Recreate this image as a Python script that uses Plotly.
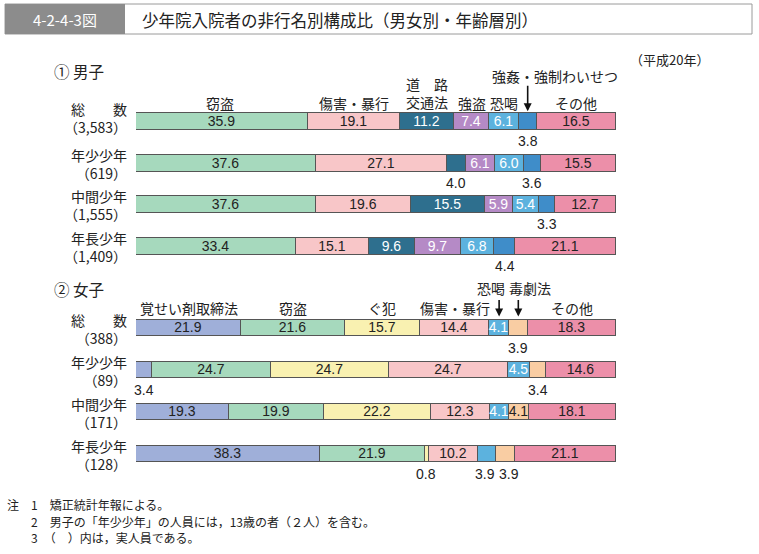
import plotly.graph_objects as go

W, H = 759, 554

# ---------------- data ----------------
male_rows = ["総数", "年少少年", "中間少年", "年長少年"]
male_row_labels = ["総　　数<br>（3,583）", "年少少年<br>（619）", "中間少年<br>（1,555）", "年長少年<br>（1,409）"]
male_cats = ["窃盗", "傷害・暴行", "道路交通法", "強盗", "恐喝", "強姦・強制わいせつ", "その他"]
male_theft = [35.9, 37.6, 37.6, 33.4]
male_assault = [19.1, 27.1, 19.6, 15.1]
male_traffic = [11.2, 4.0, 15.5, 9.6]
male_robbery = [7.4, 6.1, 5.9, 9.7]
male_extortion = [6.1, 6.0, 5.4, 6.8]
male_sexual = [3.8, 3.6, 3.3, 4.4]
male_other = [16.5, 15.5, 12.7, 21.1]

female_rows = ["総数", "年少少年", "中間少年", "年長少年"]
female_row_labels = ["総　　数<br>（388）", "年少少年<br>（89）", "中間少年<br>（171）", "年長少年<br>（128）"]
female_cats = ["覚せい剤取締法", "窃盗", "ぐ犯", "傷害・暴行", "恐喝", "毒劇法", "その他"]
female_stim = [21.9, 3.4, 19.3, 38.3]
female_theft = [21.6, 24.7, 19.9, 21.9]
female_guhan = [15.7, 24.7, 22.2, 0.8]
female_assault = [14.4, 24.7, 12.3, 10.2]
female_extortion = [4.1, 4.5, 4.1, 3.9]
female_poison = [3.9, 3.4, 4.1, 3.9]
female_other = [18.3, 14.6, 18.1, 21.1]

male_series = [male_theft, male_assault, male_traffic, male_robbery,
               male_extortion, male_sexual, male_other]
female_series = [female_stim, female_theft, female_guhan, female_assault,
                 female_extortion, female_poison, female_other]

# ---------------- style ----------------
male_colors = ["#a6d9bd", "#f8c6c8", "#2e6f8e", "#b58ac6", "#5cb2de", "#3f8dc9", "#ec8fa9"]
male_txtcol = ["#222", "#222", "white", "white", "white", "#222", "#222"]
female_colors = ["#9fafd9", "#a6d9bd", "#f9f1b1", "#f8c6c8", "#5cb2de", "#f9cda3", "#ec8fa9"]
female_txtcol = ["#222", "#222", "#222", "#222", "white", "#222", "#222"]
# (series index, row index) -> horizontal nudge (px) of values written under the bar
male_outside = {(5, 0): 0, (5, 1): 0, (5, 2): 0, (5, 3): 0, (2, 1): 0}
female_outside = {(5, 0): 0, (5, 1): 0, (0, 1): 0, (2, 3): -1, (4, 3): -2, (5, 3): 3}
male_label_shift = [4, 0, 0, 0]
female_label_shift = [0, 0, 0, 0]

FONT = "Liberation Sans, Arial, Noto Sans CJK JP, sans-serif"
JFONT = "Noto Sans CJK JP, sans-serif"

def px(x):
    return x / W

def py(y):
    return 1 - y / H

fig = go.Figure()
annotations = []

def add_group(series, cats, colors, txtcols, outside, rows, xa, ya):
    cum = [0.0] * len(rows)
    for i, vals in enumerate(series):
        texts = []
        for j, v in enumerate(vals):
            if (i, j) in outside:
                texts.append("")
                annotations.append(dict(
                    x=cum[j] + v / 2, y=rows[j], xref=xa, yref=ya,
                    text=f"{v:.1f}", showarrow=False, yshift=-20, xshift=outside[(i, j)],
                    font=dict(size=14, color="#222", family=FONT)))
            else:
                texts.append(f"{v:.1f}")
        fig.add_trace(go.Bar(
            x=vals, y=rows, orientation="h", name=cats[i],
            xaxis=xa, yaxis=ya, width=0.4,
            marker=dict(color=colors[i], line=dict(color="#555", width=1)),
            text=texts, textposition="inside", insidetextanchor="middle",
            textangle=0, textfont=dict(size=14, color=txtcols[i], family=FONT),
            hoverinfo="skip", showlegend=False))
        cum = [c + v for c, v in zip(cum, vals)]

add_group(male_series, male_cats, male_colors, male_txtcol, male_outside, male_rows, "x", "y")
add_group(female_series, female_cats, female_colors, female_txtcol, female_outside, female_rows, "x2", "y2")

# centers of top-row segments for the header labels
def centers(series):
    out, c = [], 0.0
    for s in series:
        out.append(c + s[0] / 2)
        c += s[0]
    return out

mc = centers(male_series)
fc = centers(female_series)

def lab(text, x, xa, ya, row, ys, xs=0, size=14, yanchor="middle"):
    annotations.append(dict(x=x, y=row, xref=xa, yref=ya, text=text, showarrow=False,
                            yshift=ys, xshift=xs, yanchor=yanchor,
                            font=dict(size=size, color="#222", family=JFONT)))

def arrow(x, xa, ya, row, ys, ay):
    annotations.append(dict(x=x, y=row, xref=xa, yref=ya, text="", showarrow=True,
                            arrowhead=2, arrowsize=1, arrowwidth=1.6, arrowcolor="#111",
                            ax=0, ay=ay, yshift=ys))

# male headers
lab("窃盗", mc[0], "x", "y", male_rows[0], 18, xs=-2)
lab("傷害・暴行", mc[1], "x", "y", male_rows[0], 18)
lab("道　路<br>交通法", mc[2], "x", "y", male_rows[0], 7, yanchor="bottom")
lab("強盗", mc[3], "x", "y", male_rows[0], 18)
lab("恐喝", mc[4], "x", "y", male_rows[0], 18)
lab("強姦・強制わいせつ", mc[5], "x", "y", male_rows[0], 45, xs=27)
arrow(mc[5], "x", "y", male_rows[0], 10, -27)
lab("その他", mc[6], "x", "y", male_rows[0], 18)

# female headers
lab("覚せい剤取締法", fc[0], "x2", "y2", female_rows[0], 20)
lab("窃盗", fc[1], "x2", "y2", female_rows[0], 20)
lab("ぐ犯", fc[2], "x2", "y2", female_rows[0], 20)
lab("傷害・暴行", fc[3], "x2", "y2", female_rows[0], 20)
lab("恐喝", fc[4], "x2", "y2", female_rows[0], 40, xs=-8)
arrow(fc[4], "x2", "y2", female_rows[0], 11, -18)
lab("毒劇法", fc[5], "x2", "y2", female_rows[0], 40, xs=12)
arrow(fc[5], "x2", "y2", female_rows[0], 11, -18)
lab("その他", fc[6], "x2", "y2", female_rows[0], 20)

# row labels
for rows, labels, ya, shifts in [(male_rows, male_row_labels, "y", male_label_shift),
                                 (female_rows, female_row_labels, "y2", female_label_shift)]:
    for r, t, s in zip(rows, labels, shifts):
        annotations.append(dict(x=px(129), y=r, xref="paper", yref=ya, text=t, showarrow=False,
                                xanchor="right", align="right", yshift=-1 + s,
                                font=dict(size=14, color="#222", family=JFONT)))

# titles / notes
def ptext(text, x, y, size, color="#222", xanchor="left"):
    annotations.append(dict(x=px(x), y=py(y), xref="paper", yref="paper", text=text,
                            showarrow=False, xanchor=xanchor, yanchor="middle",
                            font=dict(size=size, color=color, family=JFONT)))

ptext("4-2-4-3図", 65, 20, 15, color="white", xanchor="center")
ptext("少年院入院者の非行名別構成比（男女別・年齢層別）", 140, 20, 16.5)
ptext("① 男子", 52, 71, 15.5)
ptext("② 女子", 52, 289, 15.5)
ptext("（平成20年）", 628, 60, 13)
ptext("注　1　矯正統計年報による。", 5, 504, 12)
ptext("　　2　男子の「年少少年」の人員には，13歳の者（２人）を含む。", 5, 521, 12)
ptext("　　3　（　）内は，実人員である。", 5, 537, 12)

shapes = [
    dict(type="rect", xref="paper", yref="paper", x0=px(5), x1=px(752), y0=py(34), y1=py(4),
         fillcolor="white", line=dict(color="#9a9a9a", width=1), layer="below"),
    dict(type="rect", xref="paper", yref="paper", x0=px(5), x1=px(125), y0=py(34), y1=py(4),
         fillcolor="#8c8c8c", line=dict(width=0), layer="below"),
]

xdom = [px(136), px(616)]
axis_x = dict(range=[0, 100], visible=False, fixedrange=True)
fig.update_layout(
    width=W, height=H, margin=dict(l=0, r=0, t=0, b=0),
    paper_bgcolor="white", plot_bgcolor="rgba(0,0,0,0)",
    barmode="stack", bargap=0,
    uniformtext=dict(minsize=13, mode="show"),
    xaxis=dict(domain=xdom, anchor="y", **axis_x),
    xaxis2=dict(domain=xdom, anchor="y2", **axis_x),
    yaxis=dict(domain=[py(266.5), py(100.5)], anchor="x", type="category",
               categoryorder="array", categoryarray=male_rows, range=[3.5, -0.5],
               visible=False, fixedrange=True),
    yaxis2=dict(domain=[py(474.5), py(306.5)], anchor="x2", type="category",
                categoryorder="array", categoryarray=female_rows, range=[3.5, -0.5],
                visible=False, fixedrange=True),
    annotations=annotations, shapes=shapes,
    font=dict(family=FONT),
)

fig.write_html("out.html", config={"displayModeBar": False},
               post_script="document.body.style.margin='0';document.body.style.overflow='hidden';")
